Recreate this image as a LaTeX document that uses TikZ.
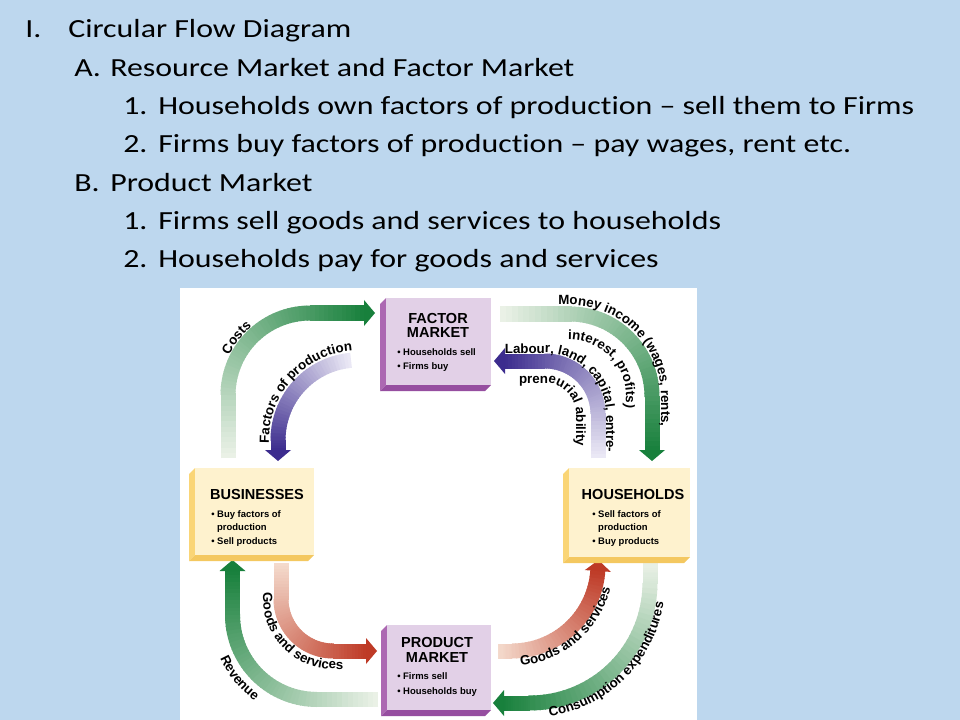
\documentclass[tikz,border=0pt]{standalone}
\usepackage{fontspec}
\setmainfont{Carlito}[FakeStretch=1.22,Ligatures=NoCommon]
\newfontfamily\dgfont{Liberation Sans}
\usetikzlibrary{decorations.text}

\definecolor{slidebg}{RGB}{189,215,238}
\definecolor{fgreen}{RGB}{24,128,60}
\definecolor{fgreenpale}{RGB}{236,242,232}
\definecolor{fpurple}{RGB}{60,44,142}
\definecolor{fpurplepale}{RGB}{236,234,246}
\definecolor{fred}{RGB}{190,58,38}
\definecolor{fredpale}{RGB}{244,218,204}
\definecolor{mkfront}{RGB}{226,208,231}
\definecolor{mkside}{RGB}{172,104,178}
\definecolor{mkbottom}{RGB}{150,78,160}
\definecolor{agfront}{RGB}{254,242,206}
\definecolor{agside}{RGB}{250,213,118}
\definecolor{agbottom}{RGB}{244,200,96}

\newcommand\lblfont{\dgfont\bfseries\fontsize{10}{12}\selectfont}
\newcommand\ttlfont{\dgfont\bfseries\fontsize{10.9}{12}\selectfont}
\newcommand\bulfont{\dgfont\bfseries\fontsize{7.1}{9}\selectfont}
\newcommand\bul{\textbullet\ }

\tikzset{
  slide/.style={anchor=base west, inner sep=0pt, font=\fontsize{19.6}{24}\selectfont, text=black},
  boxtitle/.style={anchor=base, inner sep=0pt, font=\ttlfont, text=black},
  boxitem/.style={anchor=base west, inner sep=0pt, font=\bulfont, text=black},
  flowbody/.style={line width=11.25pt},
  flowtext/.style={decorate, decoration={text along path, text align=center, text={|\lblfont|#1}}}
}

% 3D box: x1 y1 x2 y2 front side bottom
\newcommand{\mkbox}[7]{%
  \fill[#6] (#1,#2) -- (#1-6,#2+6) -- (#1-6,#4+6) -- (#1,#4) -- cycle;
  \fill[#7] (#1,#4) -- (#1-6,#4+6) -- (#3-6,#4+6) -- (#3,#4) -- cycle;
  \fill[#5] (#1,#2) rectangle (#3,#4);
}

% gradient arrow: Cx Cy r a0 a1 L1 L2 dark pale
\newcommand{\flowarrow}[9]{%
  \pgfmathsetmacro\fwS{ifthenelse(#5>#4,1,-1)}%
  \pgfmathsetmacro\fwHa{#4+90*\fwS}%
  \pgfmathsetmacro\fwHb{#5+90*\fwS}%
  \pgfmathsetmacro\fwArc{abs(#5-#4)*pi/180*#3}%
  \pgfmathsetmacro\fwTot{#6+\fwArc+#7}%
  \pgfmathsetmacro\fwAx{#1+#3*cos(#4)}%
  \pgfmathsetmacro\fwAy{#2+#3*sin(#4)}%
  \pgfmathsetmacro\fwBx{#1+#3*cos(#5)}%
  \pgfmathsetmacro\fwBy{#2+#3*sin(#5)}%
  \pgfmathsetmacro\fwSx{\fwAx-#6*cos(\fwHa)}%
  \pgfmathsetmacro\fwSy{\fwAy-#6*sin(\fwHa)}%
  \pgfmathsetmacro\fwEx{\fwBx+#7*cos(\fwHb)}%
  \pgfmathsetmacro\fwEy{\fwBy+#7*sin(\fwHb)}%
  \foreach \fwi in {0,...,11}{%
    \pgfmathsetmacro\fwta{\fwi/12}%
    \pgfmathsetmacro\fwtb{(\fwi+1.3)/12}%
    \pgfmathtruncatemacro\fwpc{100*(((\fwi+0.5)/12*#6)/\fwTot)}%
    \draw[flowbody,draw=#8!\fwpc!#9] ({\fwSx+(\fwAx-\fwSx)*\fwta},{\fwSy+(\fwAy-\fwSy)*\fwta}) -- ({\fwSx+(\fwAx-\fwSx)*\fwtb},{\fwSy+(\fwAy-\fwSy)*\fwtb});
  }%
  \foreach \fwi in {0,...,35}{%
    \pgfmathsetmacro\fwaa{#4+(#5-#4)*\fwi/36}%
    \pgfmathsetmacro\fwab{#4+(#5-#4)*(\fwi+1.3)/36}%
    \pgfmathtruncatemacro\fwpc{100*((#6+(\fwi+0.5)/36*\fwArc)/\fwTot)}%
    \draw[flowbody,draw=#8!\fwpc!#9] ({#1+#3*cos(\fwaa)},{#2+#3*sin(\fwaa)}) -- ({#1+#3*cos(\fwab)},{#2+#3*sin(\fwab)});
  }%
  \foreach \fwi in {0,...,11}{%
    \pgfmathsetmacro\fwta{\fwi/12}%
    \pgfmathsetmacro\fwtb{(\fwi+1.3)/12}%
    \pgfmathtruncatemacro\fwpc{100*((#6+\fwArc+(\fwi+0.5)/12*#7)/\fwTot)}%
    \draw[flowbody,draw=#8!\fwpc!#9] ({\fwBx+(\fwEx-\fwBx)*\fwta},{\fwBy+(\fwEy-\fwBy)*\fwta}) -- ({\fwBx+(\fwEx-\fwBx)*\fwtb},{\fwBy+(\fwEy-\fwBy)*\fwtb});
  }%
  \pgfmathsetmacro\fwTx{\fwEx+11*cos(\fwHb)}%
  \pgfmathsetmacro\fwTy{\fwEy+11*sin(\fwHb)}%
  \pgfmathsetmacro\fwLx{\fwEx+13*cos(\fwHb+90)}%
  \pgfmathsetmacro\fwLy{\fwEy+13*sin(\fwHb+90)}%
  \pgfmathsetmacro\fwRx{\fwEx-13*cos(\fwHb+90)}%
  \pgfmathsetmacro\fwRy{\fwEy-13*sin(\fwHb+90)}%
  \fill[#8] (\fwLx,\fwLy) -- (\fwTx,\fwTy) -- (\fwRx,\fwRy) -- cycle;
}

\begin{document}
\begin{tikzpicture}[x=0.75pt,y=-0.75pt]
\useasboundingbox (0,0) rectangle (960,720);
\fill[slidebg] (0,0) rectangle (960,720);

% slide text
\node[slide] (l1n) at (25,38) {I.};
\node[slide] (l1) at (68,38) {Circular Flow Diagram};
\node[slide] (l2n) at (74,77) {A.};
\node[slide] (l2) at (110,77) {Resource Market and Factor Market};
\node[slide] (l3n) at (123,115) {1.};
\node[slide] (l3) at (158,115) {Households own factors of production – sell them to Firms};
\node[slide] (l4n) at (123,153) {2.};
\node[slide] (l4) at (158,153) {Firms buy factors of production – pay wages, rent etc.};
\node[slide] (l5n) at (74,192) {B.};
\node[slide] (l5) at (110,192) {Product Market};
\node[slide] (l6n) at (123,230) {1.};
\node[slide] (l6) at (158,230) {Firms sell goods and services to households};
\node[slide] (l7n) at (123,268) {2.};
\node[slide] (l7) at (158,268) {Households pay for goods and services};

% diagram background
\fill[white] (180,288) rectangle (697,720);

% arrows
\flowarrow{310}{395}{82}{180}{270}{63}{54}{fgreen}{fgreenpale}      % costs
\flowarrow{358}{440}{80}{265}{180}{0}{10}{fpurple}{fpurplepale}     % factors of production
\flowarrow{570}{396}{82}{270}{360}{70}{54}{fgreen}{fgreenpale}      % money income
\flowarrow{545}{414}{53}{0}{-90}{44}{40}{fpurple}{fpurplepale}      % labour
\flowarrow{333}{599}{52}{180}{90}{36}{33}{fred}{fredpale}           % goods left
\flowarrow{317}{615}{84.5}{90}{180}{61}{44}{fgreen}{fgreenpale}     % revenue
\flowarrow{512}{565}{86}{90}{4}{14}{0}{fred}{fredpale}              % goods right
\flowarrow{530}{583}{120}{0}{90}{23}{26}{fgreen}{fgreenpale}        % consumption

% arrow labels
\path[flowtext={Costs}] plot[domain=0:1,samples=40] ({310+90*cos(192+52*\x)},{395+90*sin(192+52*\x)});
\path[flowtext={Factors of production}] (269,452) -- plot[domain=0:1,samples=40] ({358+89*cos(180+92*\x)},{440+89*sin(180+92*\x)});
\path[flowtext={Money income (wages, rents,}] (545,305) -- plot[domain=0:1,samples=40] ({570+91*cos(270+90*\x)},{396+91*sin(270+90*\x)}) -- (661,440);
\path[flowtext={interest, profits)}] plot[domain=0:1,samples=40] ({570+56*cos(260+120*\x)},{396+56*sin(260+120*\x)});
\path[flowtext={Labour, land, capital, entre-}] (495,353) -- plot[domain=0:1,samples=40] ({545+61*cos(270+90*\x)},{414+61*sin(270+90*\x)}) -- (606,462);
\path[flowtext={preneurial ability}] (510,383) -- plot[domain=0:1,samples=40] ({545+31*cos(270+90*\x)},{414+31*sin(270+90*\x)}) -- (576,455);
\path[flowtext={Goods and services}] (263,578) -- plot[domain=0:1,samples=40] ({333+70*cos(180-90*\x)},{599+70*sin(180-90*\x)}) -- (358,669);
\path[flowtext={Revenue}] plot[domain=0:1,samples=40] ({317+106*cos(176-70*\x)},{615+106*sin(176-70*\x)});
\path[flowtext={Goods and services}] plot[domain=0:1,samples=40] ({512+101*cos(94-90*\x)},{565+101*sin(94-90*\x)});
\path[flowtext={Consumption expenditures}] plot[domain=0:1,samples=50] ({530+135*cos(95-100*\x)},{583+135*sin(95-100*\x)});

% boxes
\mkbox{386}{298}{491}{385}{mkfront}{mkside}{mkbottom}
\mkbox{387}{625}{491}{710}{mkfront}{mkside}{mkbottom}
\mkbox{195}{468}{314}{555}{agfront}{agside}{agbottom}
\mkbox{569}{468}{690}{557}{agfront}{agside}{agbottom}

\node[boxtitle] (fmt1) at (438,323.3) {FACTOR};
\node[boxtitle] (fmt2) at (438,337.3) {MARKET};
\node[boxitem] (fmi1) at (397,355.7) {\bul Households sell};
\node[boxitem] (fmi2) at (397,369) {\bul Firms buy};

\node[boxtitle] (pmt1) at (437,647.7) {PRODUCT};
\node[boxtitle] (pmt2) at (437,662) {MARKET};
\node[boxitem] (pmi1) at (397,679.7) {\bul Firms sell};
\node[boxitem] (pmi2) at (397,694) {\bul Households buy};

\node[boxtitle] (bst) at (257,499) {BUSINESSES};
\node[boxitem] (bsi1) at (211,517.3) {\bul Buy factors of};
\node[boxitem] (bsi2) at (211,530.7) {\hphantom{\bul}production};
\node[boxitem] (bsi3) at (211,544.7) {\bul Sell products};

\node[boxtitle] (hht) at (633,499) {HOUSEHOLDS};
\node[boxitem] (hhi1) at (592,517.3) {\bul Sell factors of};
\node[boxitem] (hhi2) at (592,530.7) {\hphantom{\bul}production};
\node[boxitem] (hhi3) at (592,544.7) {\bul Buy products};
\end{tikzpicture}
\end{document}
